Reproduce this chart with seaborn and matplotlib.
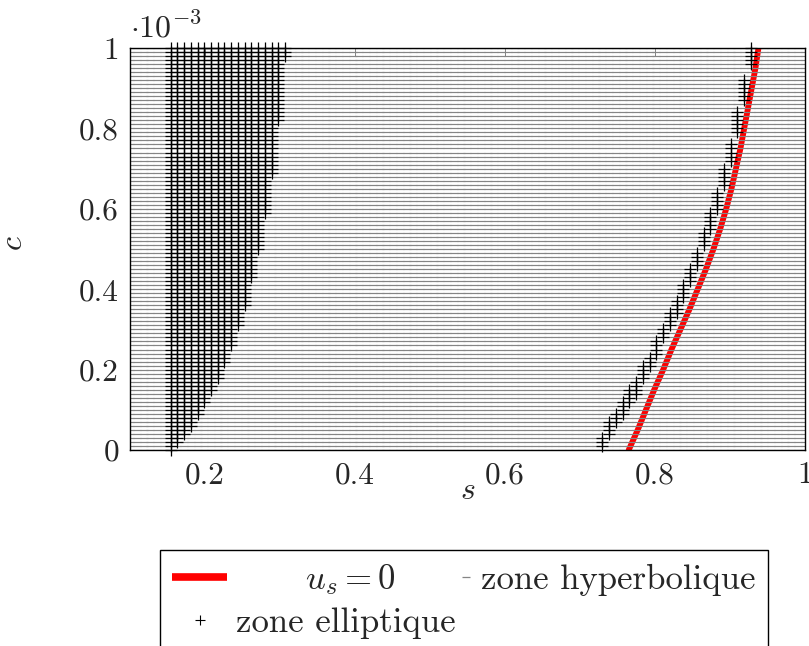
import numpy as np
import pandas as pd
import matplotlib.pyplot as plt
import seaborn as sns
from matplotlib.lines import Line2D
from matplotlib.legend_handler import HandlerBase

sns.set_theme(style='white')
plt.rcParams['font.family'] = ['cmr10', 'DejaVu Serif']
plt.rcParams['mathtext.fontset'] = 'cm'
plt.rcParams['axes.formatter.use_mathtext'] = True

# grille de calcul (s, c) : 101 x 101 points
N_S, S_MIN, S_MAX = 101, 0.1, 1.0
N_C, C_MAX = 101, 1e-3

# zone elliptique gauche : colonnes en s (indice) et indice c minimal
left_cols = [6, 7, 8, 9, 10, 11, 12, 13, 14, 15, 16, 17, 18, 19, 20, 21, 22, 23]
left_c_min = [0, 2, 4, 6, 9, 12, 15, 18, 22, 26, 31, 36, 43, 50, 59, 69, 82, 98]

# zone elliptique droite (bande le long de u_s = 0)
right_cols = [70, 71, 72, 73, 74, 75, 76, 77, 78, 79, 80, 81,
              82, 83, 84, 85, 86, 87, 88, 89, 90, 91, 92]
right_c_lo = [1, 4, 7, 9, 12, 14, 18, 21, 24, 28, 31, 34,
              38, 42, 46, 51, 55, 60, 66, 72, 79, 87, 96]
right_c_hi = [3, 7, 9, 12, 15, 17, 21, 23, 27, 30, 34, 37,
              41, 45, 49, 54, 59, 64, 70, 76, 84, 92, 100]

# courbe u_s = 0
us0_s = [0.765, 0.777, 0.788, 0.799, 0.811, 0.822, 0.834, 0.846, 0.857, 0.868,
         0.878, 0.887, 0.895, 0.902, 0.908, 0.914, 0.919, 0.924, 0.929, 0.934, 0.938]
us0_c = [0.0, 0.05e-3, 0.1e-3, 0.15e-3, 0.2e-3, 0.25e-3, 0.3e-3, 0.35e-3,
         0.4e-3, 0.45e-3, 0.5e-3, 0.55e-3, 0.6e-3, 0.65e-3, 0.7e-3, 0.75e-3,
         0.8e-3, 0.85e-3, 0.9e-3, 0.95e-3, 1.0e-3]

x_ticks = [0.2, 0.4, 0.6, 0.8, 1.0]
x_labels = ['0.2', '0.4', '0.6', '0.8', '1']
y_ticks = [0.0, 0.2e-3, 0.4e-3, 0.6e-3, 0.8e-3, 1.0e-3]
y_labels = ['0', '0.2', '0.4', '0.6', '0.8', '1']

s_vals = np.linspace(S_MIN, S_MAX, N_S)
c_vals = np.linspace(0, C_MAX, N_C)
S, C = np.meshgrid(s_vals, c_vals)

ell = np.zeros((N_C, N_S), dtype=bool)
for k, lo in zip(left_cols, left_c_min):
    ell[lo:, k] = True
for k, lo, hi in zip(right_cols, right_c_lo, right_c_hi):
    ell[lo:hi + 1, k] = True

df = pd.DataFrame({'s': S.ravel(), 'c': C.ravel(),
                   'zone': np.where(ell.ravel(), 'elliptique', 'hyperbolique')})
df_us = pd.DataFrame({'s': us0_s, 'c': us0_c})


class HandlerRightMark(HandlerBase):
    def create_artists(self, legend, orig_handle, xdescent, ydescent,
                       width, height, fontsize, trans):
        mark = Line2D([width - xdescent - 0.12 * width], [0.5 * height - ydescent])
        mark.update_from(orig_handle)
        mark.set_transform(trans)
        return [mark]


fig = plt.figure(figsize=(8.09, 6.46), dpi=100)
ax = fig.add_axes([0.1607, 0.3034, 0.8343, 0.6223])

sns.lineplot(data=df_us, x='s', y='c', color='red', linewidth=4.2,
             sort=False, estimator=None, ax=ax, legend=False, zorder=2)
sns.scatterplot(data=df[df['zone'] == 'hyperbolique'], x='s', y='c',
                marker='_', s=27, color='#858585', linewidth=0.85,
                ax=ax, legend=False, zorder=3)
sns.scatterplot(data=df[df['zone'] == 'elliptique'], x='s', y='c',
                marker='+', s=75, color='black', linewidth=0.9,
                ax=ax, legend=False, zorder=4, clip_on=False)

ax.set_xlim(S_MIN, S_MAX)
ax.set_ylim(0, C_MAX)
ax.set_xticks(x_ticks)
ax.set_xticklabels(x_labels)
ax.set_yticks(y_ticks)
ax.set_yticklabels(y_labels)
ax.tick_params(direction='in', length=6, width=0.6, color='#707070',
               top=True, right=True, labelsize=22.5, pad=8)
for sp in ax.spines.values():
    sp.set_color('black')
    sp.set_linewidth(1.0)
    sp.set_zorder(5)

ax.set_xlabel('$s$', fontsize=23)
ax.set_ylabel('$c$', fontsize=23)
ax.xaxis.set_label_coords(0.5, -0.068)
ax.yaxis.set_label_coords(-0.151, 0.515)
ax.text(0.0, 1.012, r'$\cdot 10^{-3}$', transform=ax.transAxes,
        fontsize=23, ha='left', va='bottom')

h_red = Line2D([], [], color='red', linewidth=5.5, solid_capstyle='butt')
h_ell = Line2D([], [], color='black', marker='+', linestyle='none',
               markersize=7, markeredgewidth=0.8)
h_hyp = Line2D([], [], color='#858585', marker='_', linestyle='none',
               markersize=6, markeredgewidth=0.9)
leg = fig.legend([h_red, h_ell, h_hyp],
                 ['      $u_s = 0$', 'zone elliptique', 'zone hyperbolique'],
                 ncol=2, loc='upper left', bbox_to_anchor=(0.1978, 0.1486),
                 frameon=True, fancybox=False, edgecolor='black', framealpha=1,
                 fontsize=25, handlelength=1.58, handletextpad=0.26,
                 columnspacing=-1.1, borderpad=0.35, labelspacing=0.3,
                 borderaxespad=0, handler_map={h_hyp: HandlerRightMark()})
leg.get_frame().set_linewidth(1.0)

fig.savefig('out.png', dpi=100)
plt.close(fig)
